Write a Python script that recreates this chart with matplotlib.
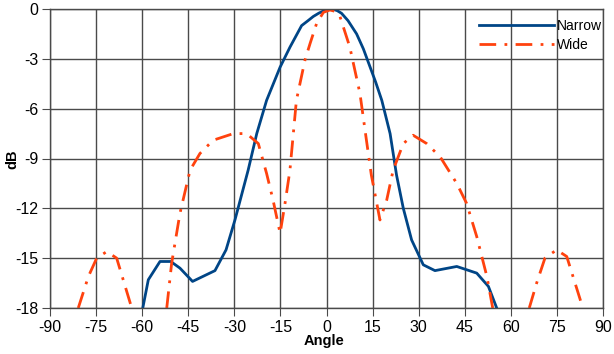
import numpy as np
import matplotlib
matplotlib.use("Agg")
import matplotlib.pyplot as plt

plt.rcParams['font.family'] = ['Liberation Sans', 'DejaVu Sans']
plt.rcParams['axes.unicode_minus'] = False

# beam patterns (dB vs angle in degrees)
narrow_ang = [-59.8, -58, -54.2, -50.7, -47.7, -43.6, -36.3, -32.7, -29.8, -25.5,
              -22.7, -19.5, -15.1, -11.9, -8.1, -6, -4.3, -2.5, -1, 0.5, 2.2,
              3.5, 4.9, 7, 9.8, 12, 14.2, 16, 18, 20.7, 22.8, 25, 27.7, 31.5,
              35.3, 42.4, 48.9, 52.7, 55.4]
narrow_db = [-18, -16.3, -15.2, -15.2, -15.6, -16.4, -15.75, -14.5, -12.7, -9.7,
             -7.5, -5.5, -3.5, -2.3, -1.0, -0.7, -0.45, -0.25, -0.12, -0.03, -0.02,
             -0.1, -0.26, -0.7, -1.5, -2.4, -3.5, -4.4, -5.5, -7.5, -10.0, -12.0,
             -13.9, -15.4, -15.75, -15.5, -15.9, -16.7, -18]

wide_ang = [-80.8, -77.5, -74.8, -71.5, -68.3, -63.4, np.nan,
            -52, -50.4, -47.7, -44.4, -41.2, -36.9, -30.3, -26, -22.2, -19.5,
            -17.4, -15.1, -13.5, -11.9, -9.8, -7, -5.3, -3.2, -1, 1.1, 3, 4.4, 7.6,
            10.9, 13, 14.6, 17.4, 19.6, 21.7, 25, 28.2, 32.6, 37, 42.4, 45.6,
            48.9, 52.2, 54.1, np.nan,
            66, 68.4, 71.1, 74.9, 78.2, 83.1]
wide_db = [-18, -16.1, -15, -14.6, -15, -18, np.nan,
           -18, -15.3, -12.3, -9.7, -8.7, -7.9, -7.5, -7.5, -8.1, -9.9,
           -11.5, -13.5, -11.7, -9.7, -5.5, -3.07, -2.05, -0.86, -0.2, -0.06, -0.15,
           -0.46, -2.3, -5.1, -7.9, -10.0, -12.7, -11.5, -9.7, -8.1, -7.6, -8.1,
           -8.9, -10.5, -11.7, -13.7, -16.1, -18, np.nan,
           -18, -16.5, -15, -14.5, -14.9, -17.8]

x_ticks = list(range(-90, 91, 15))
y_ticks = list(range(-18, 1, 3))

W, H = 614, 354
fig = plt.figure(figsize=(W / 100, H / 100), dpi=100)
ax = fig.add_axes([50 / W, 1 - 308 / H, 553 / W, 299 / H])

ax.plot(narrow_ang, narrow_db, color='#004586', lw=2.0, label='Narrow',
        solid_joinstyle='round')
ax.plot(wide_ang, wide_db, color='#ff420e', lw=2.0, label='Wide',
        dashes=(6, 3, 1, 3))

ax.set_xlim(-90, 90)
ax.set_ylim(-18, 0)
ax.set_xticks(x_ticks)
ax.set_yticks(y_ticks)
ax.grid(True, color='#4a4a4a', lw=1.0)
ax.set_axisbelow(True)
for s in ax.spines.values():
    s.set_color('#4a4a4a')
    s.set_linewidth(1.0)
ax.tick_params(direction='out', length=5.5, color='#4a4a4a', labelsize=11.5,
               pad=3)

# axis titles placed like the original
fig.text(12 / W, 1 - 159 / H, 'dB', rotation=90, fontweight='bold',
         fontsize=10.5, ha='center', va='center')
fig.text(324 / W, 1 - 341 / H, 'Angle', fontweight='bold', fontsize=10.5,
         ha='center', va='center')

fig.legend(handles=ax.get_lines(), loc='upper left', frameon=False,
           fontsize=10, handlelength=5.4, handletextpad=0.2,
           labelspacing=0.35, borderpad=0, borderaxespad=0,
           bbox_to_anchor=(479 / W, 1 - 19 / H))

fig.savefig('out.png', dpi=100)
